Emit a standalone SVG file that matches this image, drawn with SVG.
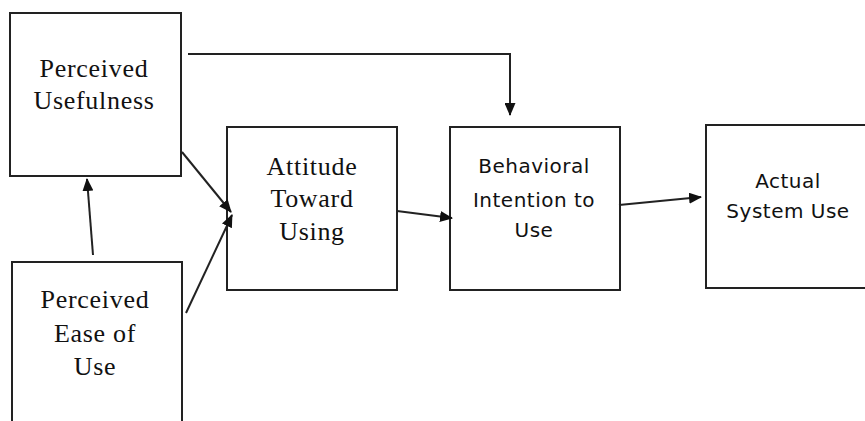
<svg xmlns="http://www.w3.org/2000/svg" width="865" height="421" viewBox="0 0 865 421">
<defs>
<style>
.box{fill:#fff;stroke:#222;stroke-width:2}
.serif{font-family:"Liberation Serif","Times New Roman",serif;font-size:26px;letter-spacing:0.7px;fill:#111;text-anchor:middle}
.sans{font-family:"DejaVu Sans","Verdana",sans-serif;font-size:20px;letter-spacing:0.5px;fill:#111;text-anchor:middle}
.conn{fill:none;stroke:#222;stroke-width:2}
</style>
<marker id="arr" viewBox="0 0 13 11" refX="12" refY="5.5" markerWidth="13" markerHeight="11" markerUnits="userSpaceOnUse" orient="auto">
<path d="M0,0 L13,5.5 L0,11 Z" fill="#111"/>
</marker>
</defs>
<rect width="865" height="421" fill="#fff"/>
<g id="pu">
<rect class="box" x="10" y="13" width="171" height="163"/>
<text class="serif" x="94" y="77">Perceived</text>
<text class="serif" x="94" y="109">Usefulness</text>
</g>
<g id="peou">
<rect class="box" x="12" y="262" width="170" height="170"/>
<text class="serif" x="95" y="308">Perceived</text>
<text class="serif" x="95" y="342">Ease of</text>
<text class="serif" x="95" y="375">Use</text>
</g>
<g id="att">
<rect class="box" x="227" y="127" width="170" height="163"/>
<text class="serif" x="312" y="175">Attitude</text>
<text class="serif" x="312" y="207">Toward</text>
<text class="serif" x="312" y="240">Using</text>
</g>
<g id="bi">
<rect class="box" x="450" y="127" width="170" height="163"/>
<text class="sans" x="534" y="173">Behavioral</text>
<text class="sans" x="534" y="207">Intention to</text>
<text class="sans" x="534" y="237">Use</text>
</g>
<g id="asu">
<rect class="box" x="706" y="125" width="170" height="163"/>
<text class="sans" x="788" y="188">Actual</text>
<text class="sans" x="788" y="218">System Use</text>
</g>
<g id="connectors">
<path class="conn" d="M188,54 H510 V115" marker-end="url(#arr)"/>
<path class="conn" d="M182,152 L231,212" marker-end="url(#arr)"/>
<path class="conn" d="M186,313 L232,215" marker-end="url(#arr)"/>
<path class="conn" d="M93,255 L87,179" marker-end="url(#arr)"/>
<path class="conn" d="M397,211 L452,218" marker-end="url(#arr)"/>
<path class="conn" d="M619,205 L701,197" marker-end="url(#arr)"/>
</g>
</svg>
